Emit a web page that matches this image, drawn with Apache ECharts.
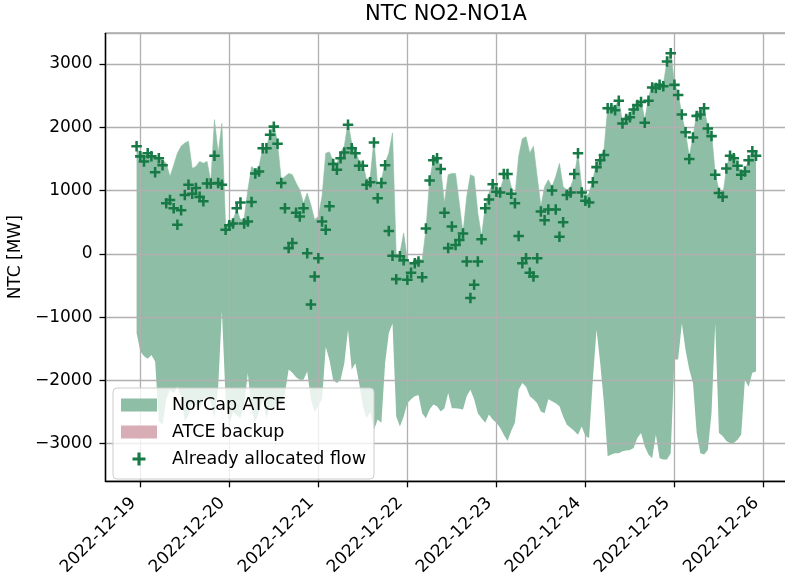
<!DOCTYPE html>
<html>
<head>
<meta charset="utf-8">
<title>NTC NO2-NO1A</title>
<script src="https://cdn.jsdelivr.net/npm/echarts@6/dist/echarts.min.js"></script>
<style>
    html, body { margin: 0; padding: 0; background: #fff; }
    #chart { width: 785px; height: 578px; }
</style>
</head>
<body>
<div id="chart"></div>
<script>
// hourly values, first value is 2022-12-18 23:00, 168 hours
var upperAtce = [
    1640, 1615, 1540, 1560, 1540, 1510, 1540, 1480, 1430, 1220,
    1400, 1590, 1700, 1750, 1780, 1350, 1380, 1460, 1430, 1460,
    1140, 2120, 1590, 2060, 430, 510, 540, 700, 540, 560,
    1010, 1380, 1330, 1380, 1660, 1700, 1880, 2060, 1750, 1170,
    1220, 1270, 1250, 1120, 1010, 800, 960, 770, 540, 590,
    910, 1590, 1610, 1460, 1430, 1610, 1700, 2080, 1750, 1640,
    1460, 1430, 1170, 1220, 1800, 1060, 1170, 1430, 1590, 1910,
    -40, 10, 330, -95, -150, -100, -70, -100, 380, 1160,
    1490, 1560, 1330, 800, 1250, 1270, 1270, 800, 330, 900,
    1250, 1220, 640, 280, 750, 960, 1120, 1060, 1010, 1200,
    1300, 1060, 900, 1540, 1820, 1850, 1590, 1700, 1220, 750,
    1060, 1170, 1060, 1220, 1430, 1060, 1010, 1060, 1220, 1590,
    1060, 900, 960, 1170, 1430, 1540, 1640, 2300, 2350, 2330,
    2430, 2090, 2170, 2220, 2330, 2400, 2430, 2120, 2460, 2700,
    2670, 2700, 2670, 3050, 3200, 2700, 2540, 2200, 1910, 1540,
    1850, 2220, 2280, 2300, 2010, 1910, 1270, 1010, 910, 1330,
    1590, 1540, 1430, 1270, 1320, 1480, 1640, 1560
];

var lowerAtce = [
    -1250, -1540, -1620, -1660, -1600, -1700, -2650, -2700, -2300, -2150,
    -2200, -2100, -2250, -2650, -2550, -2350, -2400, -2450, -2300, -2250,
    -2350, -2600, -2100, -900, -2300, -2700, -2500, -2550, -2600, -2400,
    -1880, -2500, -2650, -2500, -2300, -2600, -2400, -2500, -2300, -2400,
    -2200, -1830, -1880, -1950, -1990, -1990, -1860, -2300, -2500, -2400,
    -2300, -1470, -1680, -2000, -2040, -1990, -1730, -1200, -1830, -1730,
    -2040, -2400, -2600, -2500, -2780, -2620, -2670, -1730, -1250, -1100,
    -2570, -2730, -2570, -2360, -2300, -2250, -2230, -2520, -2600, -2460,
    -2380, -2410, -2490, -2440, -2200, -2440, -2440, -2450, -2460, -2250,
    -2150, -2300, -2520, -2600, -2670, -2540, -2620, -2670, -2750, -2860,
    -2960, -2800, -2670, -2150, -2040, -2100, -2250, -2300, -2360, -2490,
    -2520, -2300, -2330, -2360, -2410, -2570, -2700, -2750, -2800, -2860,
    -2730, -2880, -2910, -1990, -1200, -1730, -2360, -3200, -3170, -3150,
    -3150, -3120, -3110, -3100, -3070, -2910, -2830, -3040, -3170, -3230,
    -2860, -3230, -3250, -3250, -3150, -1670, -1670, -1100, -1520, -1830,
    -2040, -2830, -3150, -3170, -3100, -2520, -1100, -2830, -2880, -2960,
    -2990, -2990, -2940, -2860, -1990, -2100, -1880, -1860
];

var allocatedFlow = [
    1700, 1540, 1460, 1590, 1540, 1290, 1510, 1400, 800, 850,
    720, 460, 690, 930, 1090, 950, 1040, 900, 830, 1110,
    1110, 1550, 1120, 1090, 380, 450, 480, 720, 810, 480,
    510, 820, 1270, 1300, 1670, 1670, 1880, 2010, 1740, 1120,
    720, 90, 170, 650, 590, 720, 10, -800, -360, -70,
    510, 380, 750, 1420, 1330, 1510, 1600, 2040, 1670, 1590,
    1390, 1390, 1090, 1130, 1760, 880, 1120, 1400, 360, -30,
    -400, -40, -100, -410, -300, -150, -120, -370, 400, 1160,
    1480, 1510, 1340, 650, 90, 430, 140, 220, 320, -120,
    -700, -490, -120, 230, 720, 860, 1100, 980, 970, 1260,
    1260, 950, 800, 280, -150, -70, -300, -360, -70, 670,
    530, 700, 1000, 700, 270, 500, 930, 970, 1260, 1590,
    970, 840, 810, 1130, 1370, 1480, 1560, 2300, 2300, 2270,
    2420, 2060, 2130, 2160, 2280, 2350, 2400, 2070, 2420, 2630,
    2620, 2670, 2650, 3040, 3170, 2670, 2510, 2200, 1920, 1500,
    1840, 2180, 2200, 2300, 1980, 1860, 1250, 960, 900, 1350,
    1550, 1510, 1390, 1250, 1300, 1480, 1620, 1550
];

var legendNames = ['NorCap ATCE', 'ATCE backup', 'Already allocated flow'];

var HOUR = 3600 * 1000;
var fontName = 'DejaVu Sans';

//时间轴：每个值对应一个小时
var times = upperAtce.map(function (v, i) {
    return new Date(2022, 11, 18, 23 + i).getTime();
});
var day19 = new Date(2022, 11, 19).getTime();
var day26 = new Date(2022, 11, 26).getTime();

var lowerData = lowerAtce.map(function (v, i) { return [times[i], v]; });
var spanData = upperAtce.map(function (v, i) { return [times[i], v - lowerAtce[i]]; });
var flowData = allocatedFlow.map(function (v, i) { return [times[i], v]; });

function minusFmt(v) {
    return v < 0 ? '\u2212' + Math.abs(v) : String(v);
}

function pad2(n) {
    return n < 10 ? '0' + n : '' + n;
}

// "+" marker
var plusPath = 'path://M3.8,0H6.2V3.8H10V6.2H6.2V10H3.8V6.2H0V3.8H3.8Z';

var option = {
    animation: false,
    textStyle: { fontFamily: fontName },
    title: {
        text: 'NTC NO2-NO1A',
        left: 446,
        top: 4,
        padding: 0,
        textAlign: 'center',
        textStyle: { fontSize: 21, fontWeight: 'normal', color: '#000', fontFamily: fontName }
    },
    grid: {
        left: 105.5,
        top: 33.3,
        width: 681.5,
        height: 448,
        containLabel: false,
        outerBoundsMode: 'none',
        show: true,
        borderColor: '#000',
        borderWidth: 1.3,
        backgroundColor: 'transparent'
    },
    legend: {
        orient: 'vertical',
        left: 113,
        top: 388,
        padding: [8, 8, 11, 8],
        itemGap: 9,
        itemWidth: 36,
        itemHeight: 13,
        z: 6,
        backgroundColor: 'rgba(255,255,255,0.8)',
        borderColor: '#cccccc',
        borderWidth: 1,
        borderRadius: 4,
        selectedMode: false,
        textStyle: { fontSize: 17.5, color: '#000', fontFamily: fontName, padding: [0, 0, 0, 10] },
        data: [
            { name: legendNames[0], icon: 'rect' },
            { name: legendNames[1], icon: 'rect' },
            { name: legendNames[2] }
        ]
    },
    xAxis: {
        type: 'time',
        z: 3,
        min: day19 - 9.38 * HOUR,
        max: day26 + 6.35 * HOUR,
        minInterval: 24 * HOUR,
        maxInterval: 24 * HOUR,
        axisLine: { show: true, onZero: false, lineStyle: { color: '#000', width: 1.3 } },
        axisTick: { show: true, length: 6, lineStyle: { color: '#000', width: 1.3 } },
        splitLine: { show: true, lineStyle: { color: '#b0b0b0', width: 1.3 } },
        axisLabel: {
            rotate: 45,
            margin: 12,
            padding: [0, 10, 0, 0],
            fontSize: 17,
            color: '#000',
            fontFamily: fontName,
            hideOverlap: false,
            formatter: function (value) {
                var d = new Date(value);
                return d.getFullYear() + '-' + pad2(d.getMonth() + 1) + '-' + pad2(d.getDate());
            }
        }
    },
    yAxis: {
        type: 'value',
        z: 3,
        min: -3595,
        max: 3485,
        name: 'NTC [MW]',
        nameLocation: 'middle',
        nameGap: 77,
        nameTextStyle: { fontSize: 17, color: '#000', fontFamily: fontName },
        axisLine: { show: true, onZero: false, lineStyle: { color: '#000', width: 1.3 } },
        axisTick: { show: true, length: 6, lineStyle: { color: '#000', width: 1.3 } },
        splitLine: { show: true, lineStyle: { color: '#b0b0b0', width: 1.3 } },
        axisLabel: {
            margin: 13,
            fontSize: 17,
            color: '#000',
            fontFamily: fontName,
            showMinLabel: false,
            showMaxLabel: false,
            formatter: minusFmt
        }
    },
    series: [
        {
            // 下边界，只做堆叠底座
            name: 'lowerBase',
            type: 'line',
            stack: 'band',
            stackStrategy: 'all',
            data: lowerData,
            symbol: 'none',
            silent: true,
            lineStyle: { opacity: 0, width: 0 },
            z: 2
        },
        {
            name: legendNames[0],
            type: 'line',
            stack: 'band',
            stackStrategy: 'all',
            data: spanData,
            symbol: 'none',
            silent: true,
            color: '#8ebea5',
            lineStyle: { color: '#8ebea5', width: 0.6 },
            areaStyle: { color: '#8ebea5', opacity: 1 },
            z: 2
        },
        {
            name: legendNames[1],
            type: 'line',
            data: [],
            symbol: 'none',
            color: '#d8adb6',
            lineStyle: { color: '#d8adb6' },
            areaStyle: { color: '#d8adb6' }
        },
        {
            name: legendNames[2],
            type: 'scatter',
            data: flowData,
            symbol: plusPath,
            symbolSize: 10.5,
            symbolKeepAspect: true,
            color: '#177a46',
            itemStyle: { color: '#177a46', opacity: 1 },
            z: 5
        }
    ]
};

var mychart = echarts.init(document.getElementById('chart'));
mychart.setOption(option);
</script>
</body>
</html>
